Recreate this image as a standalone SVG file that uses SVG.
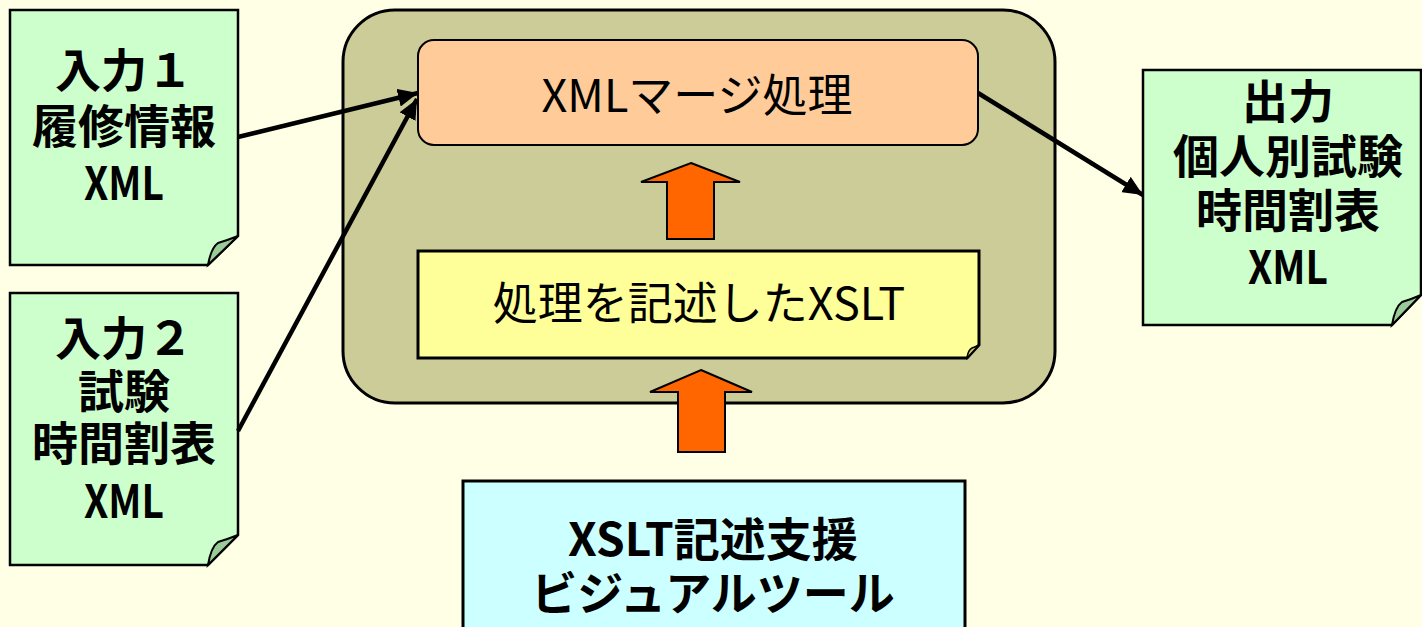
<svg xmlns="http://www.w3.org/2000/svg" width="1422" height="627" viewBox="0 0 1422 627">
<style>
.doc{fill:#CCFFCC;stroke:#000;stroke-width:2.5}
.fold{fill:#99CC99;stroke:#000;stroke-width:2}
.b{font-family:"Noto Sans CJK JP","Noto Sans CJK SC",sans-serif;font-weight:bold;font-size:46px;text-anchor:middle;fill:#000}
.r{font-family:"Noto Sans CJK JP","Noto Sans CJK SC",sans-serif;font-weight:normal;font-size:45px;text-anchor:middle;fill:#000}
.arr{fill:#FF6600;stroke:#000;stroke-width:2}
.con{stroke:#000;stroke-width:4.5;fill:none}
</style>
<defs>
<marker id="ah" markerUnits="userSpaceOnUse" markerWidth="22" markerHeight="18" refX="20" refY="9" orient="auto">
<path d="M0,0 L20,9 L0,18 Z" fill="#000"/>
</marker>
</defs>
<rect width="1422" height="627" fill="#FFFFE5"/>
<g id="container">
<rect x="343" y="10" width="712" height="393" rx="52" ry="52" fill="#CCCC99" stroke="#000" stroke-width="3"/>
</g>
<g id="input1">
<path class="doc" d="M10,10 H238 V236 L208,265 H10 Z"/>
<path class="fold" d="M238,236 L208,265 Q211,248 218,243 Q228,240 238,236 Z"/>
<text class="b" x="124" y="87">入力１</text>
<text class="b" x="124" y="143">履修情報</text>
<text class="b" x="124" y="200" textLength="80" lengthAdjust="spacingAndGlyphs">XML</text>
</g>
<g id="input2">
<path class="doc" d="M10,293 H238 V535 L208,565 H10 Z"/>
<path class="fold" d="M238,535 L208,565 Q211,547 218,542 Q228,539 238,535 Z"/>
<text class="b" x="124" y="355">入力２</text>
<text class="b" x="124" y="408">試験</text>
<text class="b" x="124" y="460">時間割表</text>
<text class="b" x="124" y="518" textLength="80" lengthAdjust="spacingAndGlyphs">XML</text>
</g>
<g id="output">
<path class="doc" d="M1143,70 H1421 V295 L1392,325 H1143 Z"/>
<path class="fold" d="M1421,295 L1392,325 Q1395,307 1402,302 Q1412,299 1421,295 Z"/>
<text class="b" x="1288" y="118">出力</text>
<text class="b" x="1288" y="173">個人別試験</text>
<text class="b" x="1288" y="227">時間割表</text>
<text class="b" x="1288" y="284" textLength="80" lengthAdjust="spacingAndGlyphs">XML</text>
</g>
<g id="merge">
<rect x="418" y="40" width="560" height="105" rx="16" ry="16" fill="#FFCC99" stroke="#000" stroke-width="2"/>
<text class="r" x="697" y="112">XMLマージ処理</text>
</g>
<g id="xslt">
<path d="M418,251 H979 V345 L967,358 H418 Z" fill="#FFFF99" stroke="#000" stroke-width="3"/>
<path d="M979,345 L967,358 Q968,350 972,348 Q975,347 979,345 Z" fill="#CCCC66" stroke="#000" stroke-width="1.5"/>
<text class="r" x="699" y="320" font-size="46">処理を記述したXSLT</text>
</g>
<g id="tool">
<rect x="463" y="481" width="502" height="160" fill="#CCFFFF" stroke="#000" stroke-width="3"/>
<text class="b" x="713" y="556">XSLT記述支援</text>
<text class="b" x="713" y="610">ビジュアルツール</text>
</g>
<g id="connectors">
<line class="con" x1="238" y1="137" x2="418" y2="93" marker-end="url(#ah)"/>
<line class="con" x1="238" y1="431" x2="417" y2="99" marker-end="url(#ah)"/>
<line class="con" x1="978" y1="93" x2="1143" y2="195" marker-end="url(#ah)"/>
<polygon class="arr" points="691,163 740,182 714,182 714,239 667,239 667,182 641,182"/>
<polygon class="arr" points="701,370 752,392 725,392 725,452 678,452 678,392 650,392"/>
</g>
</svg>
